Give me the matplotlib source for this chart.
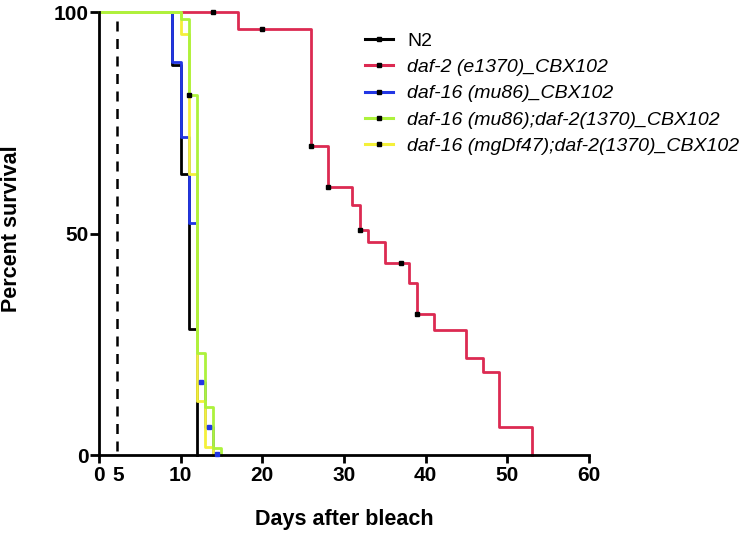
import matplotlib
matplotlib.use('Agg')
import matplotlib.pyplot as plt
from matplotlib.lines import Line2D
from matplotlib import font_manager

# survival data (days, percent surviving)
n2_days = [0, 9, 10, 11, 12]
n2_surv = [100, 88.2, 63.6, 28.6, 0]

daf2_days = [0, 17, 26, 28, 31, 32, 33, 35, 38, 39, 41, 45, 47, 49, 53]
daf2_surv = [100, 96.3, 69.9, 60.6, 56.5, 50.9, 48.2, 43.5, 38.8, 31.8, 28.3, 21.9, 18.9, 6.3, 0]

mu86_days = [0, 9, 10, 11, 12, 13, 14]
mu86_surv = [100, 88.8, 71.9, 52.4, 16.5, 6.4, 0]

mgdf47_days = [0, 10, 11, 12, 13, 14]
mgdf47_surv = [100, 95, 63.6, 12.2, 1.9, 0]

double_days = [0, 10, 11, 12, 13, 14, 15]
double_surv = [100, 98.5, 81.4, 23, 11, 1.6, 0]

# censored points
daf2_cens_x = [14, 20, 26, 28, 32, 37, 39]
daf2_cens_y = [100, 96.3, 69.9, 60.6, 50.9, 43.5, 31.8]
double_cens_x = [11]
double_cens_y = [81.4]
mu86_cens_x = [12.5, 13.5, 14.4]
mu86_cens_y = [16.5, 6.4, 0.4]

bleach_day = 2.16
xtick_pos = [0, 2.3, 10, 20, 30, 40, 50, 60]
xtick_labels = ['0', '5', '10', '20', '30', '40', '50', '60']
ytick_pos = [0, 50, 100]

labels = ['N2', 'daf-2 (e1370)_CBX102', 'daf-16 (mu86)_CBX102',
          'daf-16 (mu86);daf-2(1370)_CBX102', 'daf-16 (mgDf47);daf-2(1370)_CBX102']
colors = ['black', '#DC2A52', '#2236E4', '#ADF23C', '#F4F03A']

names = {f.name for f in font_manager.fontManager.ttflist}
plt.rcParams['font.family'] = ['Liberation Sans'] if 'Liberation Sans' in names else ['DejaVu Sans']

fig = plt.figure(figsize=(7.5, 5.34), dpi=100)
ax = fig.add_axes([0.132, 0.1474, 0.6533, 0.8296])

lw = 2
# draw order: N2, daf-2, mu86, mgDf47, double mutant on top
ax.step(n2_days, n2_surv, where='post', color=colors[0], lw=lw, clip_on=False, zorder=2)
ax.step(daf2_days, daf2_surv, where='post', color=colors[1], lw=lw, clip_on=False, zorder=3)
ax.step(mu86_days, mu86_surv, where='post', color=colors[2], lw=lw, clip_on=False, zorder=4)
ax.step(mgdf47_days, mgdf47_surv, where='post', color=colors[4], lw=lw, clip_on=False, zorder=5)
ax.step(double_days, double_surv, where='post', color=colors[3], lw=lw, clip_on=False, zorder=6)

ax.plot(daf2_cens_x, daf2_cens_y, 's', color='black', ms=3.2, clip_on=False, zorder=8)
ax.plot(double_cens_x, double_cens_y, 's', color='black', ms=3.2, clip_on=False, zorder=8)
ax.plot(mu86_cens_x, mu86_cens_y, 's', color=colors[2], ms=3.2, clip_on=False, zorder=8)

ax.axvline(bleach_day, ymin=0.01, ymax=1, color='black', lw=1.8, dashes=(4, 3), zorder=1)

ax.set_xlim(0, 60)
ax.set_ylim(0, 100)
ax.spines['top'].set_visible(False)
ax.spines['right'].set_visible(False)
for sp in ['left', 'bottom']:
    ax.spines[sp].set_linewidth(2)
    ax.spines[sp].set_zorder(7)

ax.set_xticks(xtick_pos)
ax.set_xticklabels(xtick_labels, fontsize=15, fontweight='bold')
ax.set_yticks(ytick_pos)
ax.set_yticklabels([str(v) for v in ytick_pos], fontsize=15, fontweight='bold')
ax.tick_params(axis='x', length=6, width=2, pad=2)
ax.tick_params(axis='y', length=6.5, width=2, pad=1)
ax.xaxis.get_major_ticks()[1].tick1line.set_visible(False)  # "5" has no tick mark

fig.text(12 / 750, 1 - 229 / 534, 'Percent survival', rotation=90, ha='center', va='center',
         fontsize=15.5, fontweight='bold')
fig.text(344 / 750, 1 - 519 / 534, 'Days after bleach', ha='center', va='center',
         fontsize=15.5, fontweight='bold')

handles = [Line2D([0], [0], color=c, lw=2.2, marker='s', ms=2.8, mfc='black', mec='black')
           for c in colors]
leg = ax.legend(handles, labels, loc='upper left', bbox_to_anchor=(0.487, 0.94),
                bbox_transform=fig.transFigure, frameon=False, fontsize=14,
                borderpad=0, borderaxespad=0, handlelength=1.45, handletextpad=0.72,
                labelspacing=0.45, numpoints=1)
for k, t in enumerate(leg.get_texts()):
    if k > 0:
        t.set_style('italic')

fig.savefig('out.png', dpi=100)
